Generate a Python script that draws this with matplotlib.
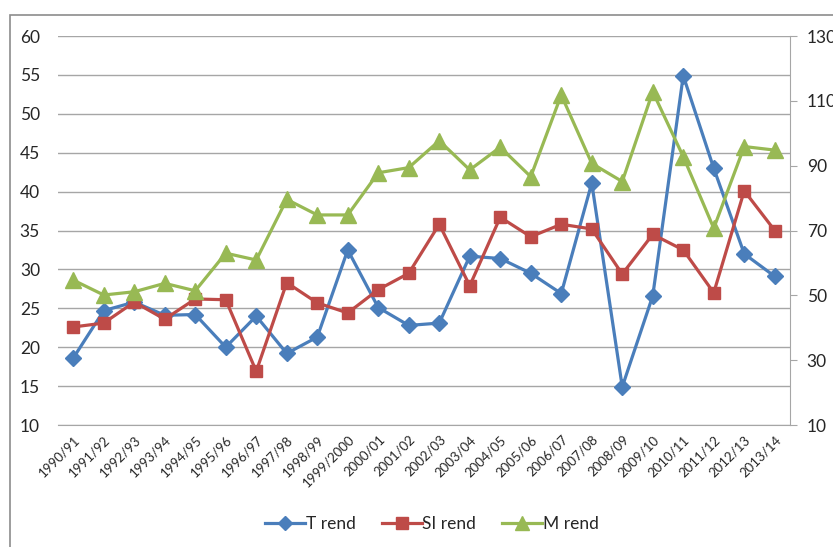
import matplotlib.pyplot as plt
from matplotlib.patches import Rectangle
from matplotlib.lines import Line2D

plt.rcParams['font.family'] = ['Lato', 'DejaVu Sans']

seasons = ['1990/91', '1991/92', '1992/93', '1993/94', '1994/95', '1995/96',
           '1996/97', '1997/98', '1998/99', '1999/2000', '2000/01', '2001/02',
           '2002/03', '2003/04', '2004/05', '2005/06', '2006/07', '2007/08',
           '2008/09', '2009/10', '2010/11', '2011/12', '2012/13', '2013/14']

t_rend = [18.6, 24.7, 25.8, 24.1, 24.2, 20.0, 24.0, 19.2, 21.3, 32.5, 25.1, 22.8,
          23.1, 31.7, 31.4, 29.5, 26.9, 41.1, 14.9, 26.6, 54.9, 43.0, 32.0, 29.1]
si_rend = [22.6, 23.1, 25.8, 23.6, 26.2, 26.1, 16.9, 28.3, 25.7, 24.4, 27.4, 29.5,
           35.8, 27.9, 36.7, 34.2, 35.8, 35.2, 29.4, 34.5, 32.5, 27.0, 40.1, 35.0]
m_rend = [54.7, 50.1, 51.1, 53.7, 51.4, 63.0, 60.9, 79.6, 74.8, 74.8, 87.8, 89.4,
          97.7, 88.7, 95.7, 86.6, 111.8, 90.7, 85.1, 112.8, 92.8, 70.7, 95.9, 94.8]

BLUE = '#4A7EBB'
RED = '#BE4B48'
GREEN = '#98B954'
GRID = '#A6A6A6'
TEXT = '#262626'

W, H = 833, 547
fig = plt.figure(figsize=(W / 100, H / 100), dpi=100)

# chart frame
fig.patches.append(Rectangle((10 / W, -0.1), 1.2, 1 - 15 / H + 0.1,
                             transform=fig.transFigure, fill=False,
                             edgecolor='#8C8C8C', linewidth=1.2))

ax = fig.add_axes([58 / W, 1 - 425 / H, (790 - 58) / W, (425 - 36) / H])
ax2 = ax.twinx()

x = list(range(len(seasons)))
ax.plot(x, t_rend, color=BLUE, lw=2.3, marker='D', ms=8, zorder=3)
ax.plot(x, si_rend, color=RED, lw=2.3, marker='s', ms=9, zorder=3)
ax2.plot(x, m_rend, color=GREEN, lw=2.3, marker='^', ms=11, zorder=3)

ax.set_xlim(-0.5, len(seasons) - 0.5)
ax.set_ylim(10, 60)
ax.set_yticks(range(10, 61, 5))
ax2.set_ylim(10, 130)
ax2.set_yticks(range(10, 131, 20))

ax.grid(axis='y', color=GRID, linewidth=1)
ax.set_axisbelow(True)

for s in ['top', 'left']:
    ax.spines[s].set_visible(False)
    ax2.spines[s].set_visible(False)
ax.spines['right'].set_visible(False)
ax.spines['bottom'].set_color(GRID)
ax2.spines['bottom'].set_visible(False)
ax2.spines['right'].set_color(GRID)

ax.tick_params(axis='y', length=0, pad=13, labelsize=12.5, labelcolor=TEXT)
ax2.tick_params(axis='y', length=5, color=GRID, pad=7, labelsize=12.5, labelcolor=TEXT)
ax.set_xticks(x)
ax.set_xticklabels(seasons, rotation=45, ha='right', rotation_mode='anchor',
                   fontsize=9.5, color=TEXT)
ax.tick_params(axis='x', length=0, pad=6)

handles = [
    Line2D([], [], color=BLUE, lw=2.3, marker='D', ms=7),
    Line2D([], [], color=RED, lw=2.3, marker='s', ms=9),
    Line2D([], [], color=GREEN, lw=2.3, marker='^', ms=10),
]
fig.legend(handles, ['T rend', 'SI rend', 'M rend'], loc='center',
           bbox_to_anchor=(432 / W, 1 - 524 / H), ncol=3, frameon=False,
           fontsize=12.5, handlelength=2.3, handletextpad=0.05, columnspacing=1.5,
           labelcolor=TEXT)

fig.savefig('out.png', dpi=100)
